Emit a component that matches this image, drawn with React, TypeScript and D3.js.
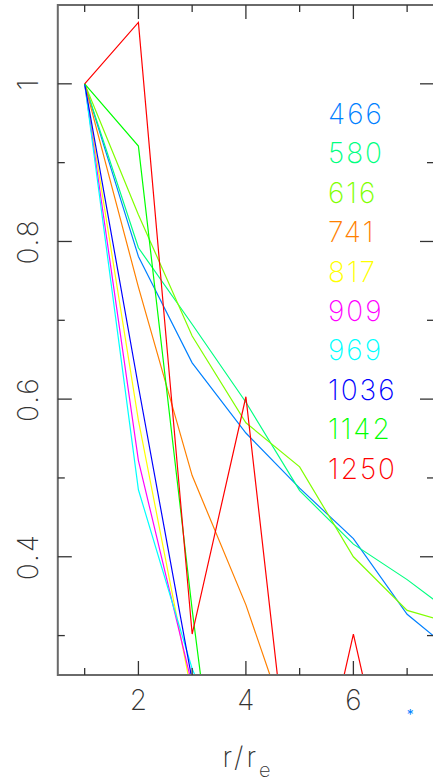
import React from "react";
import * as d3 from "d3";

// Radial positions in units of the effective radius
const radii = [1, 2, 3, 4, 5, 6, 7, 8];

// Normalised profiles, one per label
const labels = ["466", "580", "616", "741", "817", "909", "969", "1036", "1142", "1250"];
const colors = ["#0080ff", "#00ff80", "#80ff00", "#ff8000", "#ffff00", "#ff00ff", "#00ffff", "#0000ff", "#00ff00", "#ff0000"];

const s466 = [1, 0.781, 0.646, 0.557, 0.487, 0.423, 0.327, 0.271];
const s580 = [1, 0.792, 0.695, 0.596, 0.484, 0.416, 0.371, 0.32];
const s616 = [1, 0.834, 0.68, 0.57, 0.514, 0.4, 0.332, 0.312];
const s741 = [1, 0.742, 0.503, 0.339, 0.14];
const s817 = [1, 0.573, 0.224];
const s909 = [1, 0.522, 0.237];
const s969 = [1, 0.485, 0.258, 0.1];
const s1036 = [1, 0.616, 0.243];
const s1142 = [1, 0.921, 0.333, -0.2];
const s1250 = [1, 1.078, 0.302, 0.603, 0.0, 0.302, 0.0];

const seriesValues = [s466, s580, s616, s741, s817, s909, s969, s1036, s1142, s1250];

// Axis ticks
const xMajorTicks = [2, 4, 6];
const xMinorTicks = [1, 3, 5, 7];
const yMajorTicks = [0.4, 0.6, 0.8, 1];
const yMinorTicks = [0.3, 0.5, 0.7, 0.9];
const yTickLabels = ["0.4", "0.6", "0.8", "1"];

// Lone asterisk marker below the axis
const markerPoint = { x: 7.06, y: 0.205 };

const W = 433;
const H = 783;
const plot = { left: 57.8, right: 434, top: 5, bottom: 675 };
const FONT = "Inter, 'DejaVu Sans', sans-serif";

export default function App() {
  const x = d3.scaleLinear().domain([0.5, 7.5]).range([plot.left, plot.right]);
  const y = d3.scaleLinear().domain([0.25, 1.1]).range([plot.bottom, plot.top]);

  const line = d3
    .line<[number, number]>()
    .x((d) => x(d[0]))
    .y((d) => y(d[1]));

  const axisColor = "#6a6a6a";
  const tickColor = "#333";
  const majorLen = 14;
  const minorLen = 7;

  const legendX = 328;
  const legendY0 = 114;
  const legendStep = 39.4;

  return (
    <svg
      width={W}
      height={H}
      style={{ position: "absolute", left: 0, top: 0, background: "#fff" }}
      fontFamily={FONT}
    >
      <defs>
        <clipPath id="plotClip">
          <rect x={plot.left} y={plot.top} width={plot.right - plot.left} height={plot.bottom - plot.top} />
        </clipPath>
      </defs>

      {/* profiles */}
      <g clipPath="url(#plotClip)">
        {seriesValues.map((vals, i) => (
          <path
            key={labels[i]}
            d={line(vals.map((v, j) => [radii[j], v] as [number, number])) || ""}
            fill="none"
            stroke={colors[i]}
            strokeWidth={1.2}
          />
        ))}
      </g>

      {/* frame */}
      <rect
        x={plot.left}
        y={plot.top}
        width={plot.right - plot.left}
        height={plot.bottom - plot.top}
        fill="none"
        stroke={axisColor}
        strokeWidth={2}
      />

      {/* x ticks, bottom and top; y ticks, left and right */}
      <g stroke={tickColor} strokeWidth={1.3}>
        {xMajorTicks.map((t) => (
          <g key={"xM" + t}>
            <line x1={x(t)} x2={x(t)} y1={plot.bottom} y2={plot.bottom - majorLen} />
            <line x1={x(t)} x2={x(t)} y1={plot.top} y2={plot.top + majorLen} />
          </g>
        ))}
        {xMinorTicks.map((t) => (
          <g key={"xm" + t}>
            <line x1={x(t)} x2={x(t)} y1={plot.bottom} y2={plot.bottom - minorLen} />
            <line x1={x(t)} x2={x(t)} y1={plot.top} y2={plot.top + minorLen} />
          </g>
        ))}
        {yMajorTicks.map((t) => (
          <g key={"yM" + t}>
            <line x1={plot.left} x2={plot.left + majorLen} y1={y(t)} y2={y(t)} />
            <line x1={plot.right} x2={plot.right - majorLen} y1={y(t)} y2={y(t)} />
          </g>
        ))}
        {yMinorTicks.map((t) => (
          <g key={"ym" + t}>
            <line x1={plot.left} x2={plot.left + minorLen} y1={y(t)} y2={y(t)} />
            <line x1={plot.right} x2={plot.right - minorLen} y1={y(t)} y2={y(t)} />
          </g>
        ))}
      </g>

      {/* tick labels */}
      <g fill="#333" fontSize={28} fontWeight={200}>
        {xMajorTicks.map((t) => (
          <text key={"xl" + t} x={x(t)} y={710} textAnchor="middle">
            {t}
          </text>
        ))}
        {yMajorTicks.map((t, i) => (
          <text
            key={"yl" + t}
            transform={`translate(38,${y(t)}) rotate(-90)`}
            textAnchor="middle"
            letterSpacing={2}
          >
            {yTickLabels[i]}
          </text>
        ))}
      </g>

      {/* axis title */}
      <text x={248} y={767} textAnchor="middle" fill="#333" fontSize={28} fontWeight={200} letterSpacing={3}>
        r/r
        <tspan dy={10} fontSize={20}>
          e
        </tspan>
      </text>

      {/* legend */}
      <g fontSize={28} fontWeight={200} letterSpacing={2}>
        {labels.map((lab, i) => (
          <text
            key={"lg" + lab}
            x={legendX}
            y={legendY0 + i * legendStep}
            dy="0.36em"
            fill={colors[i]}
          >
            {lab}
          </text>
        ))}
      </g>

      {/* marker */}
      <text
        x={x(markerPoint.x)}
        y={y(markerPoint.y)}
        dy="0.7em"
        textAnchor="middle"
        fill="#0080ff"
        fontSize={14}
      >
        *
      </text>
    </svg>
  );
}
